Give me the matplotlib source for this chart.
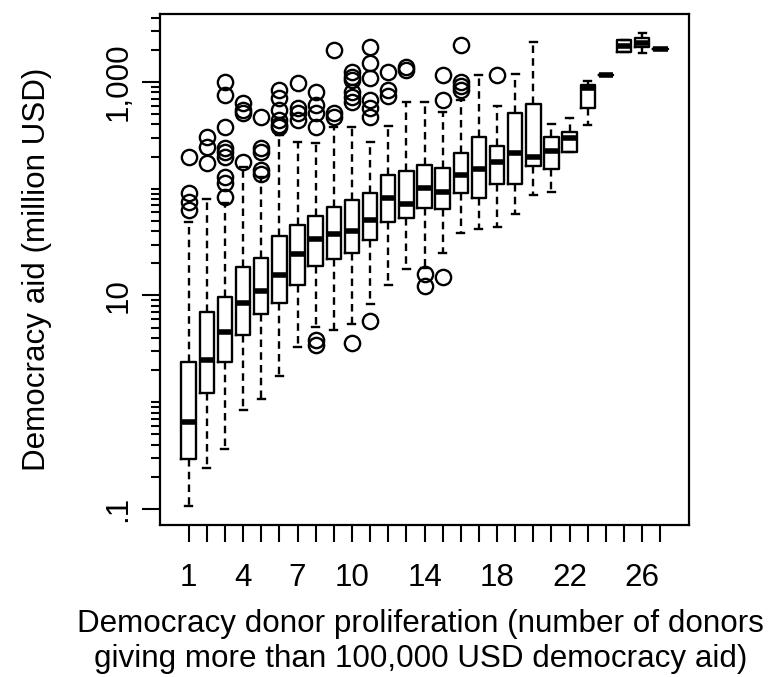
import matplotlib
matplotlib.use("Agg")
import matplotlib.pyplot as plt
from matplotlib.ticker import FixedLocator, NullFormatter

plt.rcParams['font.family'] = ['Liberation Sans', 'DejaVu Sans']

# number of donors (box positions)
donors = list(range(1, 28))

# box statistics (million USD, log scale)
whislo = [0.107, 0.242, 0.365, 0.846, 1.07, 1.76, 3.29, 5.07, 4.75, 5.41,
          8.33, 12.5, 17.7, 18.1, 25.0, 38.5, 42.0, 43.8, 58.0, 87.4,
          93.2, 221, 396, 1163, 1910, 1869, 2038]
q1 = [0.294, 1.22, 2.38, 4.27, 6.71, 8.51, 12.5, 18.9, 22.0, 25.0,
      33.1, 48.8, 53.2, 66.0, 64.6, 91.2, 81.9, 111, 111, 163,
      153, 221, 571, 1163, 1910, 2127, 2038]
med = [0.653, 2.49, 4.55, 8.51, 11.0, 15.6, 24.5, 33.8, 37.7, 40.2,
       51.0, 81.9, 72.0, 102, 93.2, 135, 153, 178, 216, 198,
       226, 299, 879, 1163, 2174, 2319, 2038]
q3 = [2.38, 7.00, 9.68, 18.5, 22.5, 36.1, 45.8, 55.5, 67.5, 78.5,
      91.2, 135, 147, 167, 156, 216, 305, 252, 512, 622,
      305, 340, 937, 1163, 2474, 2584, 2038]
whishi = [48.8, 80.2, 73.5, 160, 129, 319, 274, 268, 379, 379,
          274, 387, 649, 649, 524, 678, 1163, 596, 1188, 2369,
          404, 460, 1022, 1163, 2474, 2877, 2038]
outliers = [
    [198, 91.2, 75.1, 63.2],
    [305, 246, 174],
    [1000, 755, 379, 241, 221, 198, 129, 113, 83.7],
    [636, 547, 512, 178],
    [470, 241, 221, 150, 137],
    [842, 708, 547, 441, 396, 379],
    [979, 571, 512, 441],
    [806, 609, 512, 379, 3.83, 3.44],
    [1994, 512, 470],
    [1240, 1114, 1044, 806, 723, 649, 3.59],
    [2127, 1507, 1090, 678, 571, 470, 5.77],
    [1240, 842, 739],
    [1382, 1296],
    [15.9, 12.3],
    [1163, 678, 14.9],
    [2222, 1000, 917, 842],
    [], [1163], [], [], [], [], [], [], [], [], [],
]

xtick_labels = {1: "1", 4: "4", 7: "7", 10: "10", 14: "14", 18: "18", 22: "22", 26: "26"}

stats = []
for i in range(len(donors)):
    stats.append(dict(whislo=whislo[i], q1=q1[i], med=med[i], q3=q3[i],
                      whishi=whishi[i], fliers=outliers[i]))

fig = plt.figure(figsize=(7.73, 6.77), dpi=100)
ax = fig.add_axes([160 / 773, (677 - 525) / 677, 529 / 773, 511 / 677])

lw = 1.7
ax.bxp(stats, positions=donors, widths=0.8, capwidths=0.38,
       boxprops=dict(color="black", linewidth=lw),
       whiskerprops=dict(color="black", linewidth=lw, linestyle=(0, (3.2, 2.2))),
       capprops=dict(color="black", linewidth=lw),
       medianprops=dict(color="black", linewidth=4, solid_capstyle="butt"),
       flierprops=dict(marker="o", markerfacecolor="none", markeredgecolor="black",
                       markersize=11, markeredgewidth=lw))

ax.set_yscale("log")
ax.set_xlim(-0.58, 28.58)
ax.set_ylim(0.0708, 4335)

ax.yaxis.set_major_locator(FixedLocator([0.1, 10, 1000]))
ax.set_yticklabels([".1", "10", "1,000"])
minor = [k * 10.0 ** e for e in range(-1, 4) for k in range(1, 10)]
minor = [m for m in minor if m not in (0.1, 10, 1000) and m < 4335]
ax.yaxis.set_minor_locator(FixedLocator(minor))
ax.yaxis.set_minor_formatter(NullFormatter())

ax.set_xticks(donors)
ax.set_xticklabels([xtick_labels.get(d, "") for d in donors])

ax.tick_params(axis="y", which="major", length=13, width=1.5, labelsize=22.6,
               labelrotation=90, pad=6)
ax.tick_params(axis="y", which="minor", length=6.5, width=1.5)
ax.tick_params(axis="x", length=12.2, width=1.5, labelsize=22.6, pad=15)
for t in ax.get_yticklabels():
    t.set_va("center")

for s in ax.spines.values():
    s.set_linewidth(1.6)

ax.set_ylabel("Democracy aid (million USD)", fontsize=22.6)
ax.yaxis.set_label_coords(-0.205, 0.5)
ax.set_xlabel("Democracy donor proliferation (number of donors\n"
              "giving more than 100,000 USD democracy aid)", fontsize=22.6)
ax.xaxis.set_label_coords(0.493, -0.165)

fig.savefig("out.png", dpi=100)
